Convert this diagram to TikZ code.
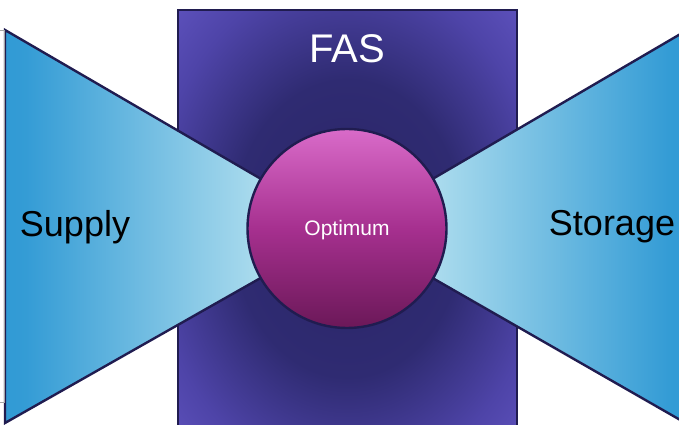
\documentclass[tikz,border=0pt]{standalone}
\usepackage{fontspec}
\setmainfont{Liberation Sans}
\definecolor{edge}{HTML}{201C50}
\definecolor{rdark}{HTML}{2A2566}
\definecolor{rmid}{HTML}{2F2B72}
\definecolor{rout}{HTML}{4E44A8}
\definecolor{rcorner}{HTML}{6C5ED0}
\definecolor{tdark}{HTML}{1A8ED0}
\definecolor{tlight}{HTML}{C6EAF3}
\definecolor{ctop}{HTML}{D96BC9}
\definecolor{cmid}{HTML}{A6308F}
\definecolor{cbot}{HTML}{6B1858}
\pgfdeclareradialshading{rectsh}{\pgfpoint{0bp}{0bp}}{color(0bp)=(rdark); color(17bp)=(rmid); color(29bp)=(rout); color(43bp)=(rcorner); color(60bp)=(rcorner)}
\pgfdeclarehorizontalshading{trish}{100bp}{color(0bp)=(tdark); color(28bp)=(tdark!85!tlight); color(70bp)=(tlight); color(100bp)=(tlight)}
\tikzset{
  outline/.style={draw=edge, line width=2.4pt, line join=miter},
  label/.style={font=\fontsize{36}{40}\selectfont, text=black, inner sep=0pt, anchor=base}
}
\begin{document}
\begin{tikzpicture}[x=1pt,y=1pt]
\useasboundingbox (0,0) rectangle (679,425);
\clip (0,0) rectangle (679,425);
% background box
\path[outline, shading=rectsh, line width=2pt] (178,415) rectangle (517,-22);
% triangles
\path[outline, shading=trish] (5,395) -- (347,196) -- (5,2) -- cycle;
\path[outline, shading=trish, shading angle=180] (689,396) -- (347,196) -- (689,0) -- cycle;
% left gray bracket
\draw[gray!70, line width=0.6pt] (0,395) -- (4,395) -- (4,23) -- (0,23);
% circle
\node[circle, outline, minimum size=199pt, inner sep=0pt, top color=ctop, bottom color=cbot, middle color=cmid] (opt) at (347,196.5) {};
\node[font=\fontsize{21}{24}\selectfont, text=white, inner sep=0pt, anchor=base] (opttext) at (347,189) {Optimum};
% labels
\node[font=\fontsize{40}{44}\selectfont, text=white, inner sep=0pt, anchor=base] (fas) at (347,362) {FAS};
\node[label] (supply) at (75,188) {Supply};
\node[label] (storage) at (612,189) {Storage};
\end{tikzpicture}
\end{document}
